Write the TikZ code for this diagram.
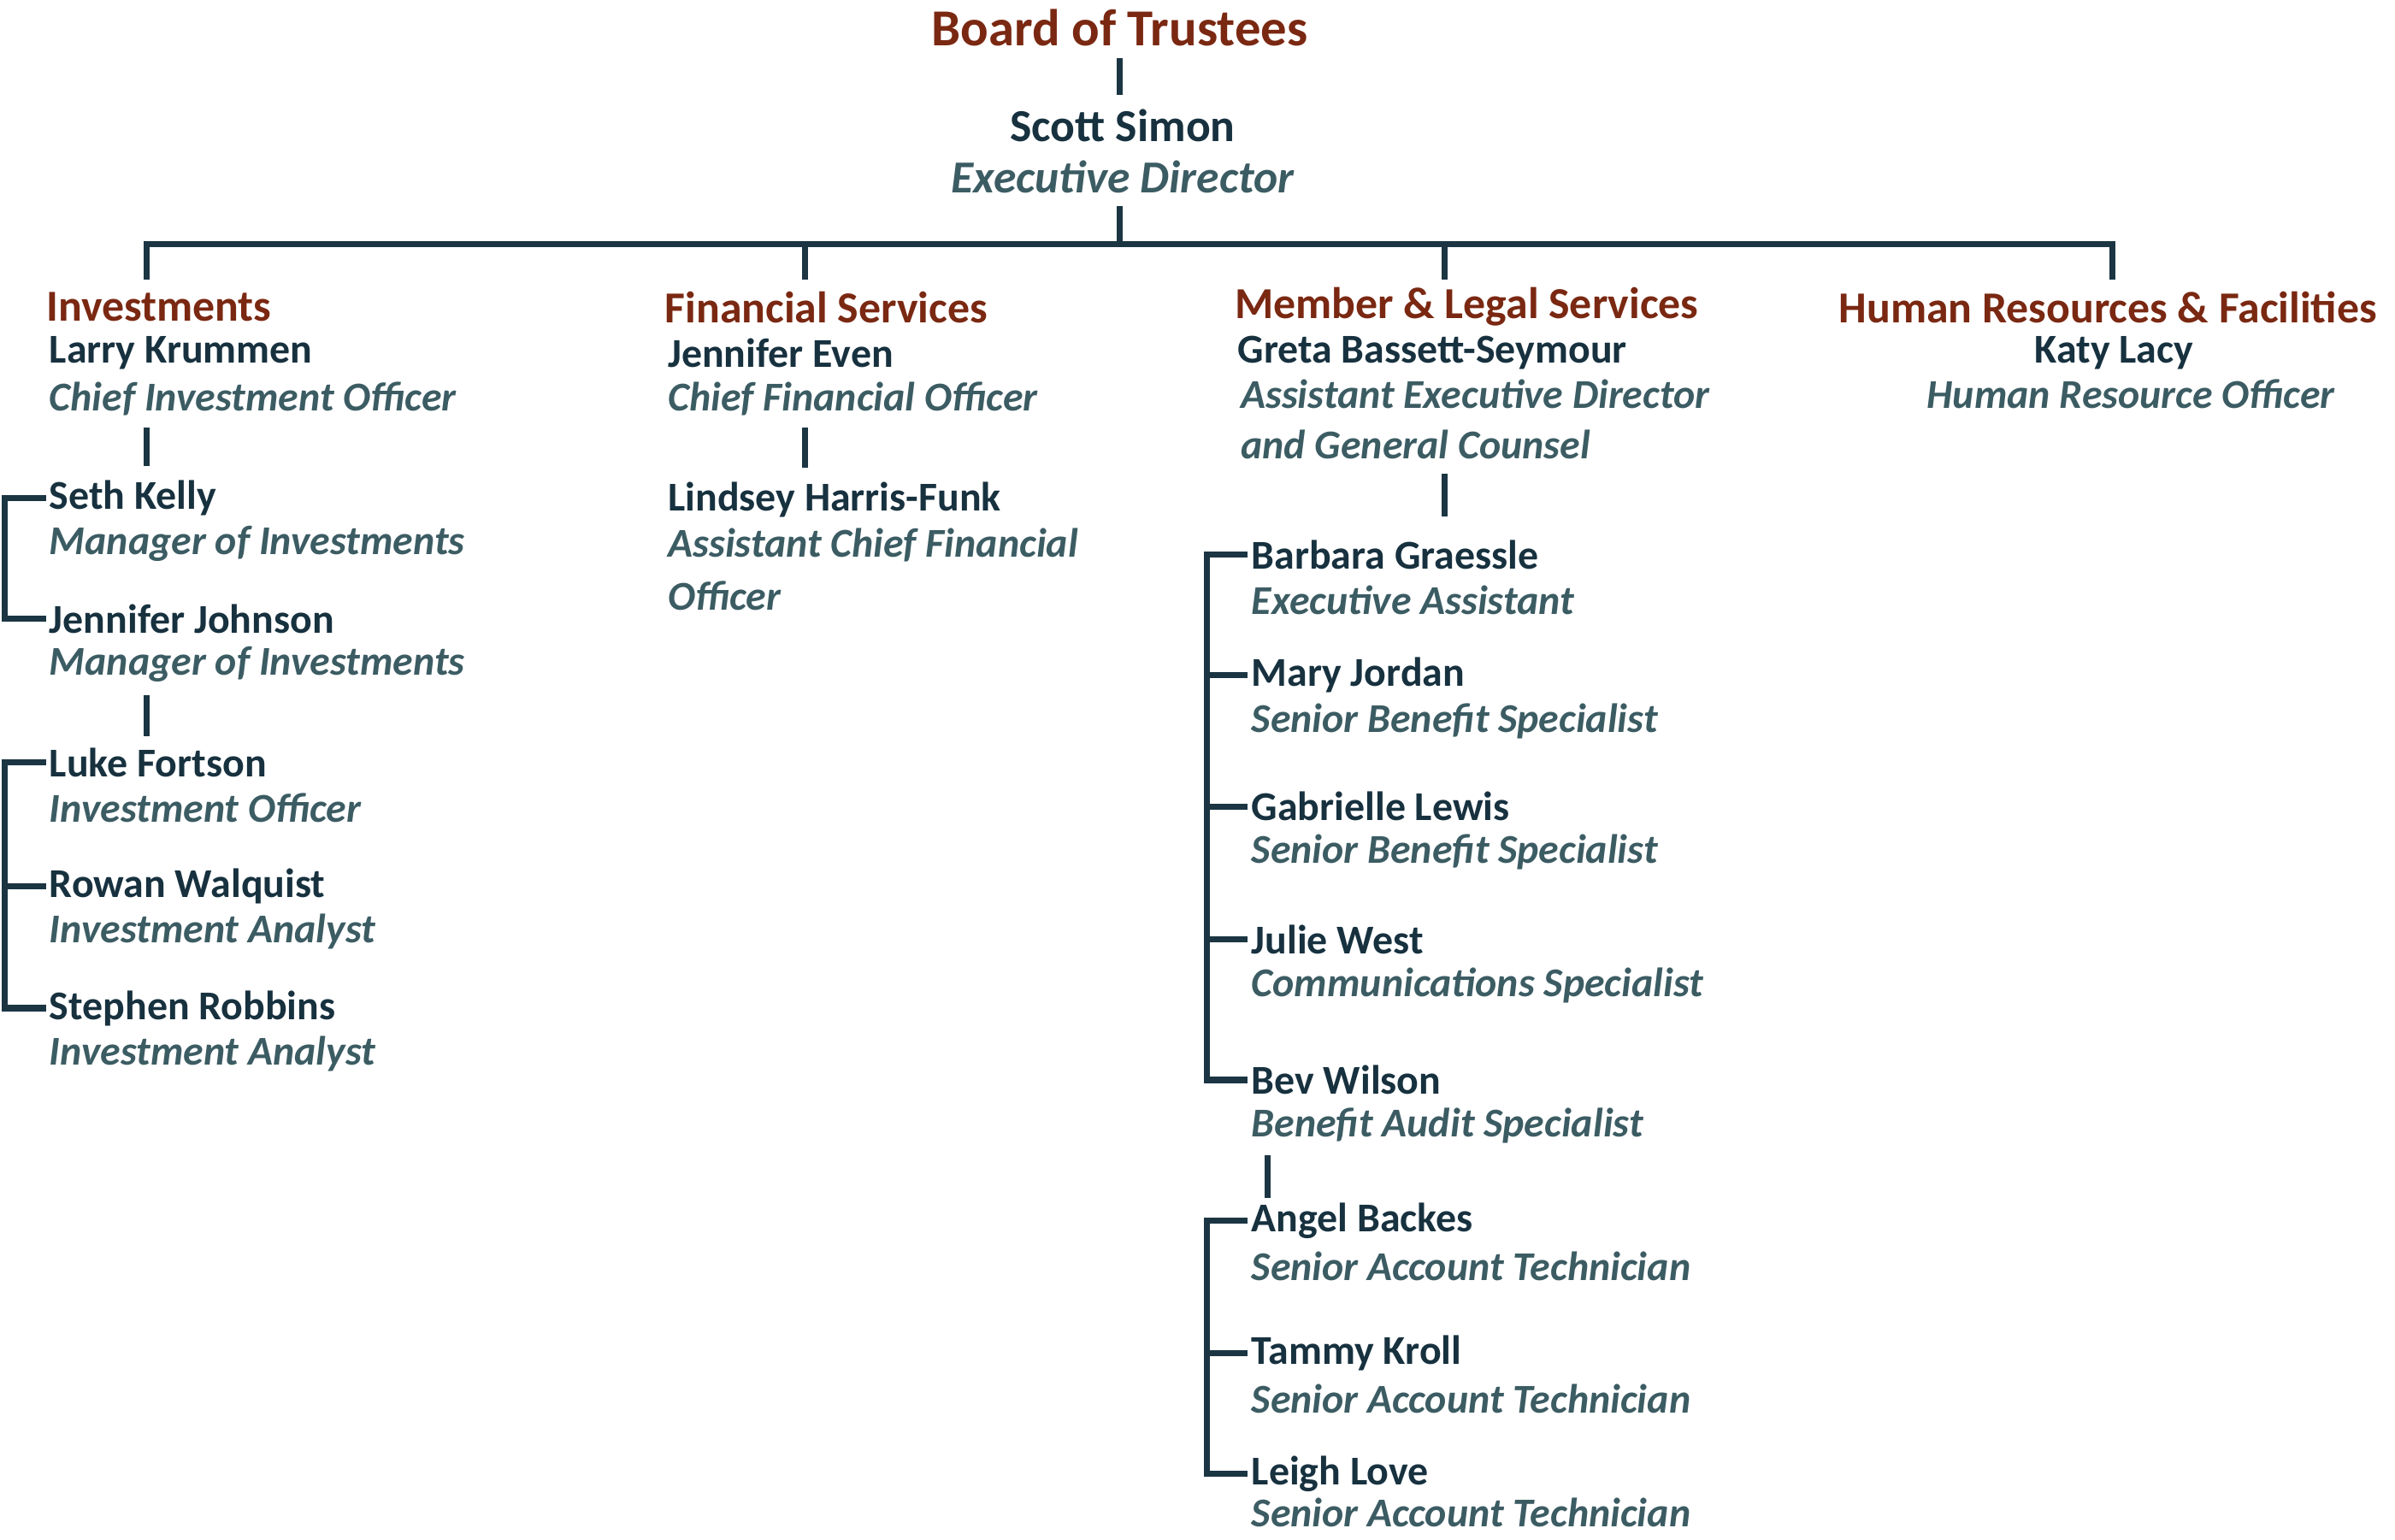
\documentclass[tikz,border=0pt]{standalone}
\usepackage{fontspec}
\setmainfont{Carlito}
\definecolor{headred}{HTML}{7A2812}
\definecolor{namedark}{HTML}{17313F}
\definecolor{titleteal}{HTML}{3C5C63}
\definecolor{linedark}{HTML}{1B3543}
\tikzset{
  head/.style={anchor=west, inner sep=0pt, text=headred, font=\bfseries\fontsize{14.5}{16}\selectfont},
  pname/.style={anchor=west, inner xsep=1pt, inner ysep=0pt, text=namedark, font=\bfseries\fontsize{13.4}{15}\selectfont},
  ptitle/.style={anchor=west, inner xsep=1pt, inner ysep=0pt, text=titleteal, font=\bfseries\itshape\fontsize{13.4}{15}\selectfont},
  link/.style={linedark, line width=2pt},
}
\newcommand{\staff}[5]{%
  \node[pname] (#1) at (#2,#3) {#4};
  \node[ptitle] (#1t) at (#2,#3+30) {#5};}
\begin{document}
\begin{tikzpicture}[x=0.5pt,y=-0.5pt]
\useasboundingbox (0,0) rectangle (1568,1008);
% top
\node[head, anchor=center, font=\bfseries\fontsize{17}{19}\selectfont] (board) at (733,18) {Board of Trustees};
\node[pname, anchor=center, font=\bfseries\fontsize{15}{17}\selectfont] (simon) at (735,82) {Scott Simon};
\node[ptitle, anchor=center, font=\bfseries\itshape\fontsize{15}{17}\selectfont] (simont) at (735,116) {Executive Director};
\draw[link] (733,38) -- (733,62);
\draw[link] (733,135) -- (733,160);
\draw[link] (96,183) -- (96,160) -- (1383,160) -- (1383,183);
\foreach \x in {527,946} \draw[link] (\x,160) -- (\x,183);

% investments
\node[head] (inv) at (30,201) {Investments};
\staff{larry}{30}{231}{Larry Krummen}{Chief Investment Officer}
\draw[link] (96,280) -- (96,305);
\staff{seth}{30}{326}{Seth Kelly}{Manager of Investments}
\staff{jjohn}{30}{405}{Jennifer Johnson}{Manager of Investments}
\draw[link] (seth.west) -| (3,365) |- (jjohn.west);
\draw[link] (96,455) -- (96,482);
\staff{luke}{30}{499}{Luke Fortson}{Investment Officer}
\staff{rowan}{30}{580}{Rowan Walquist}{Investment Analyst}
\staff{stephen}{30}{660}{Stephen Robbins}{Investment Analyst}
\draw[link] (luke.west) -| (3,580) |- (stephen.west);
\draw[link] (3,580) -- (rowan.west);

% financial services
\node[head] (fin) at (435,201) {Financial Services};
\staff{even}{435}{231}{Jennifer Even}{Chief Financial Officer}
\draw[link] (527,280) -- (527,306);
\staff{lindsey}{435}{327}{Lindsey Harris-Funk}{Assistant Chief Financial}
\node[ptitle] (lindseyt2) at (435,390) {Officer};

% member and legal
\node[head] (mem) at (808,201) {Member \& Legal Services};
\node[pname] (greta) at (808,231) {Greta Bassett-Seymour};
\node[ptitle] (gretat) at (810,258) {Assistant Executive Director};
\node[ptitle] (gretat2) at (810,291) {and General Counsel};
\draw[link] (946,310) -- (946,338);
\staff{barbara}{817}{363}{Barbara Graessle}{Executive Assistant}
\staff{mary}{817}{442}{Mary Jordan}{Senior Benefit Specialist}
\staff{gabrielle}{817}{528}{Gabrielle Lewis}{Senior Benefit Specialist}
\staff{julie}{817}{615}{Julie West}{Communications Specialist}
\staff{bev}{817}{707}{Bev Wilson}{Benefit Audit Specialist}
\draw[link] (barbara.west) -| (790,530) |- (bev.west);
\foreach \n in {mary,gabrielle,julie} \draw[link] (790,0 |- \n.west) -- (\n.west);
\draw[link] (830,756) -- (830,784);
\staff{angel}{817}{799}{Angel Backes}{Senior Account Technician}
\staff{tammy}{817}{886}{Tammy Kroll}{Senior Account Technician}
\node[pname] (leigh) at (817,965) {Leigh Love};
\node[ptitle] (leight) at (817,990) {Senior Account Technician};
\draw[link] (angel.west) -| (790,880) |- (leigh.west);
\draw[link] (790,0 |- tammy.west) -- (tammy.west);

% human resources
\node[head, anchor=center] (hr) at (1380,201) {Human Resources \& Facilities};
\node[pname, anchor=center] (katy) at (1384,231) {Katy Lacy};
\node[ptitle, anchor=center] (katyt) at (1395,258) {Human Resource Officer};
\end{tikzpicture}
\end{document}
